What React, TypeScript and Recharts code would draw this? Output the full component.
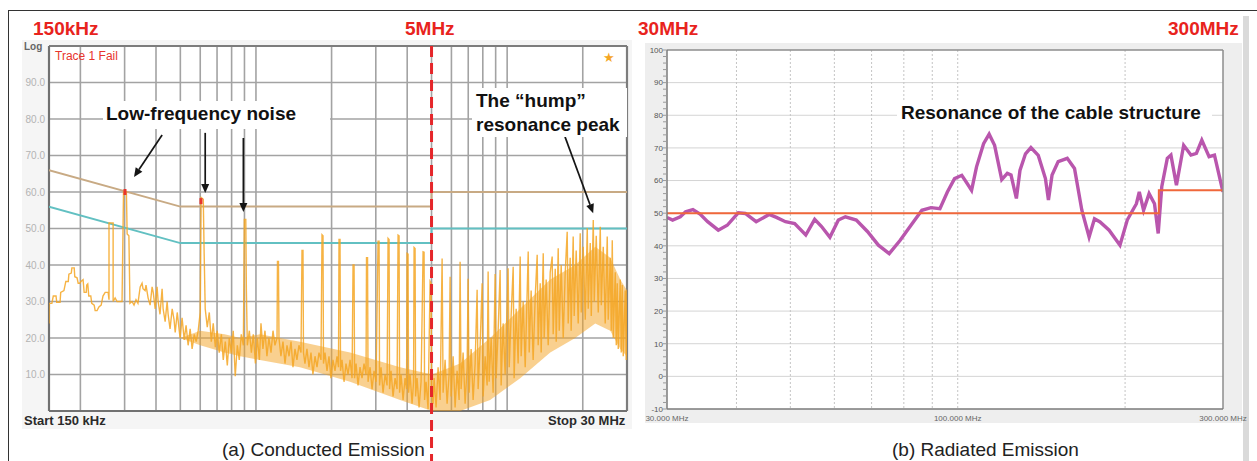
import React from 'react';
import {
  ComposedChart,
  Line,
  Area,
  Scatter,
  XAxis,
  YAxis,
  ReferenceLine,
  CartesianGrid,
} from 'recharts';

// ---------- (a) Conducted emission, 150 kHz - 30 MHz (MHz / dBuV) ----------
// peak trace, 150 kHz - 1 MHz
const ceFreqLow = [
  0.150, 0.150, 0.154, 0.156, 0.160, 0.161, 0.166, 0.167, 0.172, 0.175,
  0.179, 0.180, 0.184, 0.185, 0.189, 0.190, 0.194, 0.196, 0.199, 0.201,
  0.205, 0.207, 0.211, 0.212, 0.214, 0.216, 0.220, 0.222, 0.227, 0.229,
  0.233, 0.237, 0.242, 0.246, 0.251, 0.258, 0.260, 0.260, 0.270, 0.270,
  0.275, 0.280, 0.293, 0.297, 0.305, 0.307, 0.312, 0.315, 0.321, 0.327,
  0.333, 0.339, 0.346, 0.352, 0.355, 0.362, 0.365, 0.372, 0.379, 0.386,
  0.390, 0.397, 0.404, 0.408, 0.415, 0.423, 0.427, 0.435, 0.443, 0.447,
  0.455, 0.464, 0.472, 0.477, 0.486, 0.495, 0.499, 0.508, 0.518, 0.527,
  0.537, 0.547, 0.557, 0.568, 0.578, 0.589, 0.600, 0.605, 0.617, 0.622,
  0.628, 0.640, 0.652, 0.664, 0.676, 0.689, 0.701, 0.714, 0.728, 0.741,
  0.755, 0.769, 0.783, 0.798, 0.812, 0.827, 0.843, 0.858, 0.874, 0.891,
  0.899, 0.911, 0.916, 0.924, 0.941, 0.959, 0.976, 0.995,
];
const ceLevelLow = [
  24, 29.5, 29.5, 31.5, 31.5, 29.8, 29.8, 32.5, 33, 35.5,
  35.5, 37.5, 37.8, 39.2, 39.2, 36.8, 36.5, 35, 35, 35.5,
  36, 32.5, 32.5, 34.5, 34.8, 31.5, 31.5, 29.5, 29, 27.5,
  27.5, 28.5, 29, 31.5, 32.5, 32.5, 30.5, 51.5, 51.5, 30,
  31, 30, 30, 60, 60, 48.5, 48, 29.5, 30, 29,
  30.5, 29.5, 34, 35, 33.5, 33, 34.5, 31, 29, 34,
  32.5, 28, 34, 30, 26.5, 33.5, 28, 24.5, 30, 26.5,
  22.5, 28, 25, 21.5, 27, 22, 20, 25.5, 19.5, 23.5,
  18, 22.5, 17, 21, 19, 22, 27, 58.5, 58, 43,
  28, 23, 27, 19, 24, 17.5, 22, 16, 21, 14,
  19, 12.5, 20, 16, 22, 9.5, 18, 14, 21, 18,
  52.5, 52.5, 33, 18, 22, 16, 21, 13,
];
// 1 MHz - 5 MHz
const ceFreqMid = [
  1.013, 1.032, 1.047, 1.066, 1.086, 1.106, 1.126, 1.148, 1.169, 1.190,
  1.213, 1.218, 1.229, 1.235, 1.257, 1.281, 1.305, 1.329, 1.354, 1.379,
  1.404, 1.430, 1.456, 1.483, 1.511, 1.525, 1.539, 1.546, 1.567, 1.596,
  1.626, 1.656, 1.686, 1.718, 1.750, 1.782, 1.815, 1.832, 1.849, 1.857,
  1.883, 1.918, 1.953, 1.989, 2.026, 2.064, 2.102, 2.131, 2.141, 2.161,
  2.171, 2.201, 2.242, 2.283, 2.326, 2.369, 2.413, 2.435, 2.458, 2.469,
  2.503, 2.549, 2.596, 2.644, 2.693, 2.743, 2.755, 2.781, 2.794, 2.846,
  2.899, 2.952, 3.007, 3.062, 3.091, 3.105, 3.148, 3.206, 3.266, 3.326,
  3.357, 3.388, 3.403, 3.450, 3.514, 3.579, 3.645, 3.679, 3.713, 3.731,
  3.782, 3.852, 3.923, 3.977, 3.995, 4.032, 4.051, 4.107, 4.183, 4.241,
  4.261, 4.300, 4.320, 4.379, 4.460, 4.543, 4.627, 4.670, 4.691, 4.756,
  4.844, 4.934, 4.979, 5.002, 5.071,
];
const ceLevelMid = [
  20, 14, 24, 17, 22, 15, 20, 16, 22, 18,
  20, 41, 41, 20, 15, 19, 13, 18, 15, 19,
  12, 17, 14, 18, 16, 44, 44, 16, 13, 17,
  12, 16, 10, 15, 12, 16, 14, 48.3, 48, 13,
  16, 11, 15, 9, 14, 11, 15, 12, 47, 47,
  11, 14, 8, 13, 10, 14, 9, 40, 40, 9,
  13, 7, 12, 9, 13, 10, 42, 42, 8, 12,
  6, 11, 8, 46.5, 46.5, 7, 12, 5, 10, 7,
  47.3, 47, 6, 11, 4, 9, 6, 48.2, 48, 5,
  10, 3, 9, 6, 43.2, 43, 5, 10, 2, 8,
  44.8, 44.5, 4, 9, 1, 8, 43.6, 43.5, 3, 8,
  0.5, 35.5, 35, 6, 2,
];
// 5 MHz - 30 MHz
const ceFreqHigh = [
  5.118, 5.213, 5.310, 5.409, 5.509, 5.560, 5.662, 5.767, 5.874, 5.928,
  5.983, 6.094, 6.206, 6.321, 6.438, 6.497, 6.557, 6.678, 6.803, 6.929,
  6.992, 7.057, 7.188, 7.320, 7.456, 7.594, 7.664, 7.806, 7.950, 8.024,
  8.173, 8.324, 8.400, 8.478, 8.635, 8.794, 8.958, 9.040, 9.207, 9.378,
  9.464, 9.639, 9.818, 10.09, 10.19, 10.37, 10.57, 10.66, 10.86, 11.06,
  11.27, 11.37, 11.58, 11.80, 12.13, 12.24, 12.46, 12.69, 12.93, 13.17,
  13.29, 13.54, 13.66, 13.92, 14.04, 14.30, 14.57, 14.84, 15.11, 15.25,
  15.54, 15.68, 15.97, 16.12, 16.41, 16.72, 17.03, 17.34, 17.50, 17.82,
  17.98, 18.32, 18.49, 18.83, 19.18, 19.54, 19.72, 20.08, 20.46, 20.84,
  21.03, 21.42, 21.62, 22.02, 22.22, 22.63, 23.05, 23.48, 23.70, 24.13,
  24.57, 25.03, 25.26, 25.73, 25.97, 26.21, 26.45, 26.94, 27.19, 27.44,
  27.69, 28.20, 28.46, 28.72, 28.99, 29.52, 29.79, 30.0,
];
const ceLevelHigh = [
  9, 1, 12, 3, 41.8, 5, 14, 2, 10, 36.8,
  4, 15, 1, 11, 3, 40.9, 6, 16, 2, 12,
  36.2, 5, 17, 3, 13, 33.2, 6, 18, 35, 4,
  15, 7, 38.2, 8, 20, 5, 37.5, 9, 22, 38.6,
  7, 24, 10, 39.1, 12, 26, 39.5, 9, 28, 13,
  42.3, 15, 30, 12, 43.7, 16, 33, 14, 31, 42.8,
  18, 35, 16, 43.2, 20, 36, 18, 38, 42.3, 21,
  39, 19, 44.6, 22, 40, 20, 38, 49.1, 24, 42,
  22, 47.8, 26, 44, 24, 48.7, 27, 45, 25, 50.1,
  28, 46, 26, 52.3, 30, 48, 27, 50.5, 29, 45,
  24, 47.8, 25, 42, 22, 46.8, 20, 38, 18, 35,
  17, 36, 16, 34.5, 15, 33, 14, 33.2,
];

// dense noise floor envelope
const ceBandFreq = [0.5, 0.6, 0.75, 0.866, 1.037, 1.497, 2.369, 3.748, 5.02, 6.497, 8.556, 11.27, 14.84, 18.66, 22.42, 25.73, 28.2, 30];
const ceBandLow = [20, 18, 16, 15, 14, 12, 8, 3, 0, 0, 3, 9, 16, 20, 24, 22, 17, 15];
const ceBandHigh = [20, 22, 21, 20, 21, 19, 16, 12, 10, 13, 20, 28, 36, 40, 45, 42, 36, 33];

// limits
const qpFreq = [0.15, 0.5, 5, 5, 30];
const qpLimit = [66, 56, 56, 60, 60];
const avFreq = [0.15, 0.5, 5, 5, 30];
const avLimit = [56, 46, 46, 50, 50];

// failing peaks
const failFreq = [0.301, 0.604];
const failLevel = [60, 57.5];

const ceGridFreq = [0.2, 0.3, 0.4, 0.5, 0.6, 0.7, 0.8, 0.9, 1, 2, 3, 4, 5, 6, 7, 8, 9, 10, 20];
const ceTicks = [10, 20, 30, 40, 50, 60, 70, 80, 90];
const ceFreqRange = [0.15, 30];
const ceLevelRange = [0, 100];

// annotation arrows (from -> to, MHz / dBuV)
const arrowFromF = [0.423, 0.628, 0.891, 17.0];
const arrowFromV = [75.6, 76.2, 74.8, 75.1];
const arrowToF = [0.327, 0.628, 0.891, 22.0];
const arrowToV = [64.1, 59.7, 54.5, 54.2];

// ---------- (b) Radiated emission, 30 MHz - 300 MHz ----------
const reFreq = [
  30.0, 30.7, 31.7, 32.4, 33.4, 34.4, 35.5, 37.1, 38.5, 40.3,
  41.5, 43.4, 45.8, 47.2, 49.0, 50.9, 53.3, 55.3, 56.9, 58.9,
  61.0, 62.8, 65.7, 68.8, 72.0, 75.3, 78.8, 82.4, 86.2, 89.5,
  92.9, 95.8, 98.7, 101.7, 104.0, 105.9, 108.1, 111.3, 113.9, 116.5,
  120.0, 122.8, 124.7, 127.5, 129.4, 132.4, 135.4, 139.6, 143.8, 145.6,
  147.8, 151.6, 157.4, 162.2, 167.2, 172.3, 176.2, 180.3, 187.2, 195.8,
  201.8, 206.4, 209.6, 212.1, 215.9, 220.9, 225.9, 229.4, 232.8, 238.2,
  241.8, 247.4, 254.9, 262.7, 268.7, 274.8, 283.2, 289.6, 298.5, 300,
];
const reLevel = [
  48.7, 47.9, 48.9, 50.4, 51.1, 49.7, 47.4, 44.8, 46.3, 50.1,
  49.9, 47.4, 49.6, 48.7, 47.4, 46.8, 43.3, 48.1, 45.9, 42.6,
  47.9, 48.9, 47.9, 44.4, 40.2, 37.6, 41.7, 46.3, 50.9, 51.7,
  51.4, 56.5, 60.6, 61.6, 59.1, 57.0, 64.2, 71.3, 74.2, 70.8,
  60.3, 62.2, 61.7, 54.5, 63.1, 68.2, 70.1, 67.7, 60.6, 54.0,
  61.7, 65.8, 66.8, 63.7, 50.9, 42.7, 48.3, 47.3, 44.8, 40.2,
  47.9, 50.9, 52.9, 56.5, 50.9, 56.0, 52.9, 43.8, 58.1, 66.8,
  67.8, 58.6, 70.8, 67.8, 68.3, 72.4, 67.3, 67.8, 58.1, 56.5,
];
const reLimitFreq = [30, 230, 230, 300];
const reLimit = [50, 50, 57, 57];

const reGridFreq = [40, 50, 60, 70, 80, 90, 100, 200];
const reGridLevel = [0, 10, 20, 30, 40, 50, 60, 70, 80, 90];
const reFreqTicks = [30, 100, 300];
const reTicks = [
  -10, -8, -6, -4, -2, 0, 2, 4, 6, 8, 10, 12, 14, 16, 18, 20, 22, 24, 26, 28,
  30, 32, 34, 36, 38, 40, 42, 44, 46, 48, 50, 52, 54, 56, 58, 60, 62, 64, 66, 68,
  70, 72, 74, 76, 78, 80, 82, 84, 86, 88, 90, 92, 94, 96, 98, 100,
];
const reFreqRange = [30, 300];
const reLevelRange = [-10, 100];

const FONT = '"Liberation Sans", Arial, Helvetica, sans-serif';

const zip = (xs: number[], ys: number[]) => xs.map((f, i) => ({ f, v: ys[i] }));

const ceTrace = [
  ...zip(ceFreqLow, ceLevelLow),
  ...zip(ceFreqMid, ceLevelMid),
  ...zip(ceFreqHigh, ceLevelHigh),
];
const ceBand = ceBandFreq.map((f, i) => ({ f, band: [ceBandLow[i], ceBandHigh[i]] }));
const qpData = zip(qpFreq, qpLimit);
const avData = zip(avFreq, avLimit);
const failData = zip(failFreq, failLevel);
const reTrace = zip(reFreq, reLevel);
const reLimitData = zip(reLimitFreq, reLimit);

const Arrow = (props: any) => {
  const { x1, y1, x2, y2 } = props;
  const ang = Math.atan2(y2 - y1, x2 - x1);
  const len = 9;
  const half = 4;
  const bx = x2 - len * Math.cos(ang);
  const by = y2 - len * Math.sin(ang);
  const pts = `${x2},${y2} ${bx - half * Math.sin(ang)},${by + half * Math.cos(ang)} ${bx + half * Math.sin(ang)},${by - half * Math.cos(ang)}`;
  return (
    <g>
      <line x1={x1} y1={y1} x2={bx} y2={by} stroke="#151515" strokeWidth={1.7} />
      <polygon points={pts} fill="#151515" />
    </g>
  );
};

// red dashed 5 MHz marker, runs on below the plot to the caption
const MarkerLine = (props: any) => {
  const top = Math.min(props.y1, props.y2);
  const bottom = Math.max(props.y1, props.y2) + 50;
  return <line x1={props.x1} x2={props.x2} y1={top} y2={bottom} stroke="#e5262a" strokeWidth={3} strokeDasharray="11 6" />;
};

const FailMark = (props: any) => (
  <rect x={props.cx - 1.5} y={props.cy - 3} width={3} height={6} fill="#e8342c" />
);

const Txt = ({ left, top, size, weight = 400, color = '#111', children }: any) => (
  <div
    style={{
      position: 'absolute',
      left,
      top,
      fontSize: size,
      lineHeight: `${size + 1}px`,
      fontWeight: weight,
      color,
      whiteSpace: 'nowrap',
      fontFamily: FONT,
    }}
  >
    {children}
  </div>
);

const Box = ({ left, top, width, height, bg }: any) => (
  <div style={{ position: 'absolute', left, top, width, height, background: bg }} />
);

const CE_MARGIN = { top: 46, right: 13, bottom: 30, left: 0 };

// analyser screen grid, drawn as its own layer under the traces
const ConductedGrid = () => (
  <ComposedChart width={640} height={461} margin={CE_MARGIN}>
    <XAxis dataKey="f" type="number" scale="log" domain={ceFreqRange} ticks={ceGridFreq} interval={0} tick={false} height={20} allowDataOverflow />
    <YAxis type="number" domain={ceLevelRange} ticks={ceTicks} interval={0} tick={false} width={49} allowDataOverflow />
    {ceGridFreq.map((f) => (
      <ReferenceLine key={`gx${f}`} x={f} stroke="#a3a3a3" strokeWidth={1.6} />
    ))}
    {ceTicks.map((v) => (
      <ReferenceLine key={`gy${v}`} y={v} stroke="#a3a3a3" strokeWidth={1.6} />
    ))}
    <ReferenceLine x={ceFreqRange[0]} stroke="#7d7d7d" strokeWidth={2.2} />
    <ReferenceLine x={ceFreqRange[1]} stroke="#7d7d7d" strokeWidth={2.2} />
    <ReferenceLine y={ceLevelRange[0]} stroke="#7d7d7d" strokeWidth={2.2} />
    <ReferenceLine y={ceLevelRange[1]} stroke="#7d7d7d" strokeWidth={2.2} />
  </ComposedChart>
);

const ConductedChart = () => (
  <ComposedChart width={640} height={461} margin={CE_MARGIN}>
    <XAxis
      dataKey="f"
      type="number"
      scale="log"
      domain={ceFreqRange}
      ticks={ceGridFreq}
      interval={0}
      tick={false}
      tickLine={false}
      axisLine={false}
      height={20}
      allowDataOverflow
    />
    <YAxis
      type="number"
      domain={ceLevelRange}
      ticks={ceTicks}
      interval={0}
      width={49}
      tickSize={2}
      tickMargin={2}
      tickLine={false}
      axisLine={false}
      tickFormatter={(v: number) => v.toFixed(1)}
      tick={{ fontSize: 10, fill: '#b3b3b3', fontFamily: FONT }}
      allowDataOverflow
    />
    <Line data={qpData} dataKey="v" type="linear" stroke="#c8aa84" strokeWidth={2} dot={false} isAnimationActive={false} />
    <Line data={avData} dataKey="v" type="linear" stroke="#62c0c2" strokeWidth={2} dot={false} isAnimationActive={false} />
    <Area data={ceBand} dataKey="band" type="linear" stroke="none" fill="#f3a21f" fillOpacity={0.5} isAnimationActive={false} />
    <Line
      data={ceTrace}
      dataKey="v"
      type="linear"
      stroke="#f5a623"
      strokeOpacity={0.85}
      strokeWidth={1.4}
      dot={false}
      isAnimationActive={false}
    />
    <Scatter data={failData} dataKey="v" shape={FailMark} isAnimationActive={false} />
    <ReferenceLine x={5} shape={MarkerLine} ifOverflow="visible" />
    {arrowFromF.map((f, i) => (
      <ReferenceLine
        key={`a${i}`}
        segment={[
          { x: f, y: arrowFromV[i] },
          { x: arrowToF[i], y: arrowToV[i] },
        ]}
        shape={Arrow}
        ifOverflow="visible"
      />
    ))}
  </ComposedChart>
);

const RadiatedChart = () => (
  <ComposedChart width={617} height={461} margin={{ top: 50, right: 34, bottom: 32, left: 0 }}>
    <CartesianGrid fill="#ffffff" vertical={false} stroke="#d4d4d4" horizontalValues={reGridLevel} />
    <CartesianGrid horizontal={false} stroke="#c4c4c4" strokeDasharray="2 2" verticalValues={reGridFreq} />
    <XAxis
      dataKey="f"
      type="number"
      scale="log"
      domain={reFreqRange}
      ticks={reFreqTicks}
      interval={0}
      tickFormatter={(v: number) => `${v.toFixed(3)} MHz`}
      tick={{ fontSize: 8, fill: '#666', fontFamily: FONT }}
      tickLine={false}
      tickSize={4}
      tickMargin={2}
      axisLine={{ stroke: '#7a7a7a', strokeWidth: 1.5 }}
      height={20}
      allowDataOverflow
    />
    <YAxis
      type="number"
      domain={reLevelRange}
      ticks={reTicks}
      interval={0}
      width={27}
      tickSize={4}
      tickMargin={0}
      tickFormatter={(v: number) => (v % 10 === 0 ? String(v) : '')}
      tick={{ fontSize: 8, fill: '#555', fontFamily: FONT }}
      tickLine={{ stroke: '#9a9a9a' }}
      axisLine={{ stroke: '#7a7a7a', strokeWidth: 1.5 }}
      allowDataOverflow
    />
    <Line data={reTrace} dataKey="v" type="linear" stroke="#b956ad" strokeWidth={3.4} dot={false} isAnimationActive={false} />
    <Line data={reLimitData} dataKey="v" type="linear" stroke="#f0673b" strokeWidth={2} dot={false} isAnimationActive={false} />
    <ReferenceLine x={reFreqRange[1]} stroke="#8c8c8c" strokeWidth={1.5} />
    <ReferenceLine y={reLevelRange[1]} stroke="#8c8c8c" strokeWidth={1.5} />
  </ComposedChart>
);

export default function App() {
  const red = '#e8231d';
  return (
    <div
      style={{
        position: 'absolute',
        left: 0,
        top: 0,
        width: 1257,
        height: 461,
        background: '#fff',
        overflow: 'hidden',
        fontFamily: FONT,
      }}
    >
      {/* outer frame */}
      <div
        style={{
          position: 'absolute',
          left: 8,
          top: 10,
          width: 1260,
          height: 460,
          borderTop: '1.5px solid #333',
          borderLeft: '1.5px solid #333',
        }}
      />
      {/* screenshot backgrounds */}
      <Box left={22} top={40} width={610} height={389} bg="#f5f5f5" />
      <Box left={49} top={46} width={578} height={365} bg="#ffffff" />
      <Box left={645} top={43} width={597} height={380} bg="#eeeeee" />
      <Box left={1243} top={16} width={6} height={445} bg="#dadada" />

      <div style={{ position: 'absolute', left: 0, top: 0 }}>
        <ConductedGrid />
      </div>
      <div style={{ position: 'absolute', left: 0, top: 0 }}>
        <ConductedChart />
      </div>
      <div style={{ position: 'absolute', left: 640, top: 0 }}>
        <RadiatedChart />
      </div>

      {/* left screenshot texts */}
      <Txt left={24} top={41} size={10} weight={700} color="#666">Log</Txt>
      <Txt left={55} top={50} size={12} color="#e8342c">Trace 1 Fail</Txt>
      <Txt left={603} top={51} size={13} color="#f5a623">★</Txt>
      <Txt left={24} top={414} size={13} weight={700} color="#2a2a2a">Start 150 kHz</Txt>
      <Txt left={548} top={414} size={13} weight={700} color="#2a2a2a">Stop 30 MHz</Txt>

      {/* annotations */}
      <Box left={103} top={101} width={227} height={28} bg="#fff" />
      <Txt left={106} top={104} size={19} weight={700}>Low-frequency noise</Txt>
      <Box left={472} top={88} width={155} height={49} bg="#fff" />
      <Txt left={476} top={91} size={19} weight={700}>The “hump”</Txt>
      <Txt left={476} top={115} size={19} weight={700}>resonance peak</Txt>
      <Box left={897} top={100} width={315} height={28} bg="#fff" />
      <Txt left={901} top={103} size={19} weight={700}>Resonance of the cable structure</Txt>

      {/* band edge labels */}
      <Txt left={33} top={19} size={19} weight={700} color={red}>150kHz</Txt>
      <Txt left={405} top={19} size={19} weight={700} color={red}>5MHz</Txt>
      <Txt left={638} top={19} size={19} weight={700} color={red}>30MHz</Txt>
      <Txt left={1168} top={19} size={19} weight={700} color={red}>300MHz</Txt>

      {/* captions */}
      <Txt left={222} top={440} size={19} color="#222">(a) Conducted Emission</Txt>
      <Txt left={892} top={440} size={19} color="#222">(b) Radiated Emission</Txt>
    </div>
  );
}
